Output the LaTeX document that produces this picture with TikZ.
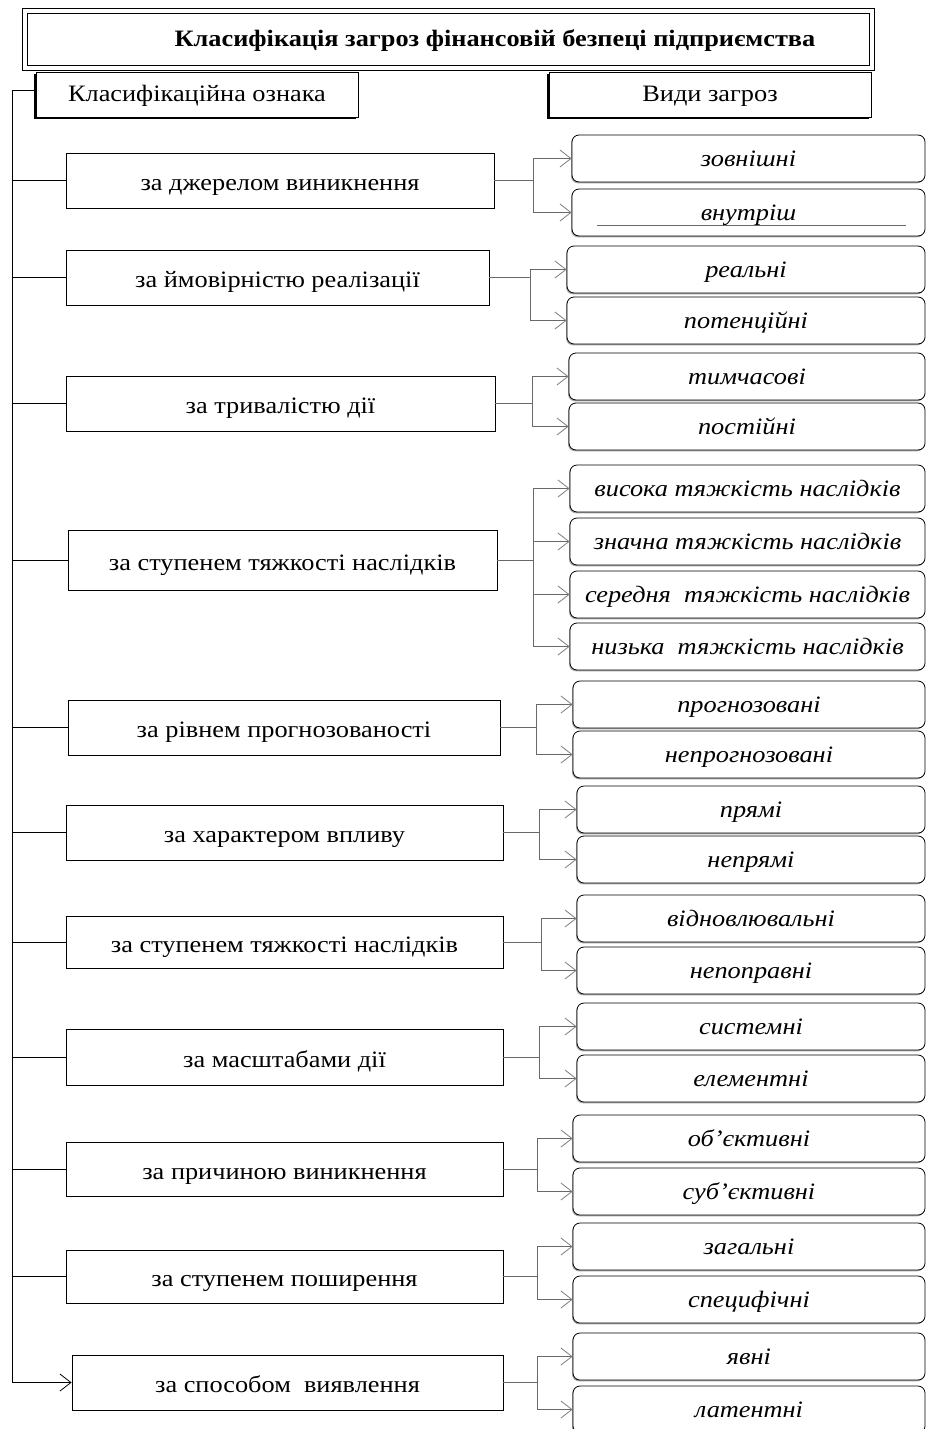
\documentclass[tikz,border=0pt]{standalone}
\usepackage{fontspec}
\setmainfont{Liberation Serif}[FakeStretch=1.12]
\usetikzlibrary{arrows.meta,shadows}
\definecolor{linegray}{RGB}{105,105,105}
\definecolor{tipgray}{RGB}{125,125,125}
\begin{document}
\begin{tikzpicture}
[x=1pt,y=-1pt,
  titledecorate/.style={draw,double,double distance=3.5pt,line width=1.3pt,%
    minimum width=847pt,minimum height=57pt,inner sep=0pt,text height=18pt,text depth=4pt,%
    font=\bfseries\fontsize{23.5}{28}\selectfont},%
  headdecorate/.style={draw,thick,fill=white,inner sep=0pt,text height=18pt,text depth=4pt,%
    drop shadow={shadow xshift=-1.6pt,shadow yshift=-1.6pt,fill=black,opacity=1},%
    minimum width=322pt,minimum height=45pt,font=\fontsize{23.5}{28}\selectfont},%
  signdecorate/.style={draw,thick,inner sep=0pt,text height=24pt,text depth=4pt,%
    font=\fontsize{23.5}{28}\selectfont},%
  kinddecorate/.style={draw,thick,rounded corners=7pt,fill=white,inner sep=0pt,%
    text height=20pt,text depth=4.6pt,%
    drop shadow={shadow xshift=-1pt,shadow yshift=-1.3pt,fill=gray!70,opacity=1},%
    minimum height=47pt,font=\itshape\fontsize{23.5}{28}\selectfont},%
  linedecorate/.style={-,thick},%
  forkdecorate/.style={draw=linegray,thick,-{Straight Barb[length=11pt,width=17pt,color=tipgray]}},%
  spinedecorate/.style={thick,-{Straight Barb[length=11pt,width=17pt]}}]
\clip (0,0) rectangle (926,1429);
\useasboundingbox (0,0) rectangle (926,1429);
%% title and heads
\node (title) at (448.5,39.5) [titledecorate] {\hspace*{93pt}Класифікація загроз фінансовій безпеці підприємства};
\node (sign) at (197,94.5) [headdecorate] {Класифікаційна ознака};
\node (kind) at (710,94.5) [headdecorate] {Види загроз};
%% classification signs
\foreach \nodename/\xl/\xr/\yt/\yb/\text in {sign1/66/494/153/208/за джерелом виникнення,
  sign2/66/489/250/305/за ймовірністю реалізації, sign3/66/495/376/431/за тривалістю дії,
  sign4/68/497/530/590/за ступенем тяжкості наслідків, sign5/68/500/700/755/за рівнем прогнозованості,
  sign6/66/503/805/860/за характером впливу, sign7/66/503/916/968/за ступенем тяжкості наслідків,
  sign8/66/503/1029/1085/за масштабами дії, sign9/66/503/1142/1196/за причиною виникнення,
  sign10/66/503/1250/1303/за ступенем поширення, sign11/72/503/1355/1410/за способом\ \ виявлення} {
  \node (\nodename) at ({(\xl+\xr)/2},{(\yt+\yb)/2}) [signdecorate,
    minimum width={(\xr-\xl)*1pt}, minimum height={(\yb-\yt)*1pt}] {\text};
}
%% kinds of threats
\foreach \nodename/\xl/\yt/\text in {kind1a/572/135/зовнішні, kind1b/572/189/внутріш,
  kind2a/567/246/реальні, kind2b/567/297/потенційні,
  kind3a/569/353/тимчасові, kind3b/569/403/постійні,
  kind4a/570/465/висока тяжкість наслідків, kind4b/570/518/значна тяжкість наслідків,
  kind4c/570/571/середня\ \ тяжкість наслідків, kind4d/570/623/низька\ \ тяжкість наслідків,
  kind5a/573/681/прогнозовані, kind5b/573/731/непрогнозовані,
  kind6a/577/786/прямі, kind6b/577/836/непрямі,
  kind7a/577/895/відновлювальні, kind7b/577/947/непоправні,
  kind8a/577/1003/системні, kind8b/577/1055/елементні,
  kind9a/573/1115/об’єктивні, kind9b/573/1168/суб’єктивні,
  kind10a/573/1223/загальні, kind10b/573/1276/специфічні,
  kind11a/573/1333/явні, kind11b/573/1386/латентні} {
  \node (\nodename) at ({(\xl+925)/2},\yt+23.5) [kinddecorate,
    minimum width={(925-\xl)*1pt}] {\text};
}
\draw[linegray] ([xshift=25pt,yshift=11pt]kind1b.south west) -- ([xshift=-19pt,yshift=11pt]kind1b.south east);
%% forks
\foreach \nodename/\x in {fork1/533, fork2/530, fork3/532, fork4/533, fork5/536, fork6/539,
  fork7/541, fork8/539, fork9/537, fork10/537, fork11/537} {
  \coordinate (\nodename) at (\x,0);
}
\coordinate (spine) at (12,0);
%% edges or lines
\foreach \g/\k in {1/1a, 1/1b, 2/2a, 2/2b, 3/3a, 3/3b, 4/4a, 4/4b, 4/4c, 4/4d,
  5/5a, 5/5b, 6/6a, 6/6b, 7/7a, 7/7b, 8/8a, 8/8b, 9/9a, 9/9b, 10/10a, 10/10b, 11/11a, 11/11b} {
  \draw[forkdecorate] (sign\g.east) -- (sign\g.east -| fork\g) |- (kind\k.west);
}
\draw[linedecorate] ([yshift=4.5pt]sign.west) -- ([yshift=4.5pt]sign.west -| spine) -- (sign11.west -| spine);
\draw[spinedecorate] (sign11.west -| spine) -- (sign11.west);
\foreach \g in {1,...,10} {
  \draw[linedecorate] (sign\g.west -| spine) -- (sign\g.west);
}
\end{tikzpicture}
\end{document}
